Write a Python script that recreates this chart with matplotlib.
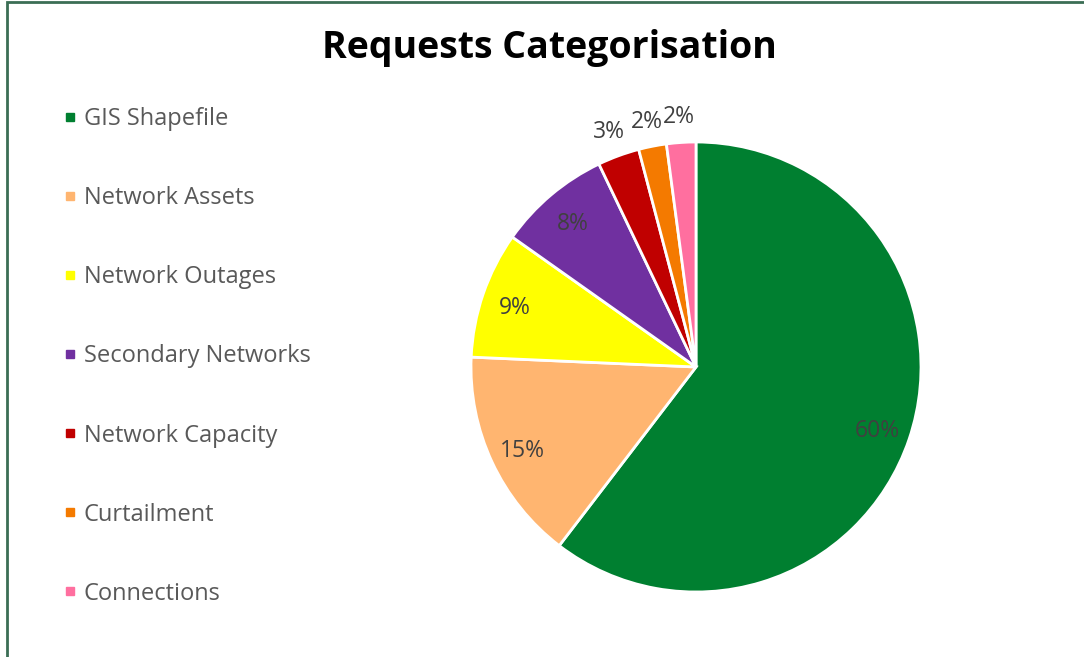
import matplotlib
matplotlib.use("Agg")
import matplotlib.pyplot as plt
from matplotlib.lines import Line2D
from matplotlib.patches import Rectangle
import numpy as np

plt.rcParams["font.family"] = ["Open Sans", "DejaVu Sans"]

# data
categories = ["GIS Shapefile", "Network Assets", "Network Outages", "Secondary Networks",
              "Network Capacity", "Curtailment", "Connections"]
shares = [60.4, 15.3, 9.1, 8.1, 3.0, 2.0, 2.1]
pct_labels = ["60%", "15%", "9%", "8%", "3%", "2%", "2%"]
colors = ["#007F30", "#FFB570", "#FFFF00", "#7030A0", "#C00000", "#F47A00", "#FF6F9F"]

W, H = 1084, 657
fig = plt.figure(figsize=(W / 100, H / 100), dpi=100)

# pie axes: centre (696, 367), radius 225 px
cx, cy, r = 696, 367, 225
ax = fig.add_axes([(cx - r) / W, (H - cy - r) / H, 2 * r / W, 2 * r / H])
wedges, _ = ax.pie(shares, colors=colors, startangle=90, counterclock=False,
                   radius=1, wedgeprops=dict(edgecolor="white", linewidth=2.0))
ax.set_xlim(-1, 1)
ax.set_ylim(-1, 1)
ax.set_aspect("equal")
ax.axis("off")

for w, lab, s in zip(wedges, pct_labels, shares):
    mid = np.deg2rad((w.theta1 + w.theta2) / 2)
    d = 0.85 if s >= 5 else 1.125
    ax.text(d * np.cos(mid), d * np.sin(mid), lab, ha="center", va="center_baseline",
            fontsize=16.5, color="#404040", clip_on=False)

fig.text(549 / W, 1 - 48 / H, "Requests Categorisation", ha="center", va="center",
         fontsize=27, fontweight="bold", color="black")

handles = [Line2D([], [], marker="s", linestyle="none", markersize=6,
                  markerfacecolor=c, markeredgecolor=c) for c in colors]
fig.legend(handles, categories, loc="upper left", bbox_to_anchor=(54 / W, 1 - 98 / H),
           frameon=False, fontsize=17, labelcolor="#595959", handlelength=0.55,
           handletextpad=0.3, labelspacing=2.33, borderaxespad=0)

# outer chart border (only left and top visible in the crop)
fig.patches.append(Rectangle((7 / W, -0.1), 1.2, 1.1 - 2 / H, transform=fig.transFigure,
                             fill=False, edgecolor="#3B6E55", linewidth=2))

fig.savefig("out.png", dpi=100, facecolor="white")
